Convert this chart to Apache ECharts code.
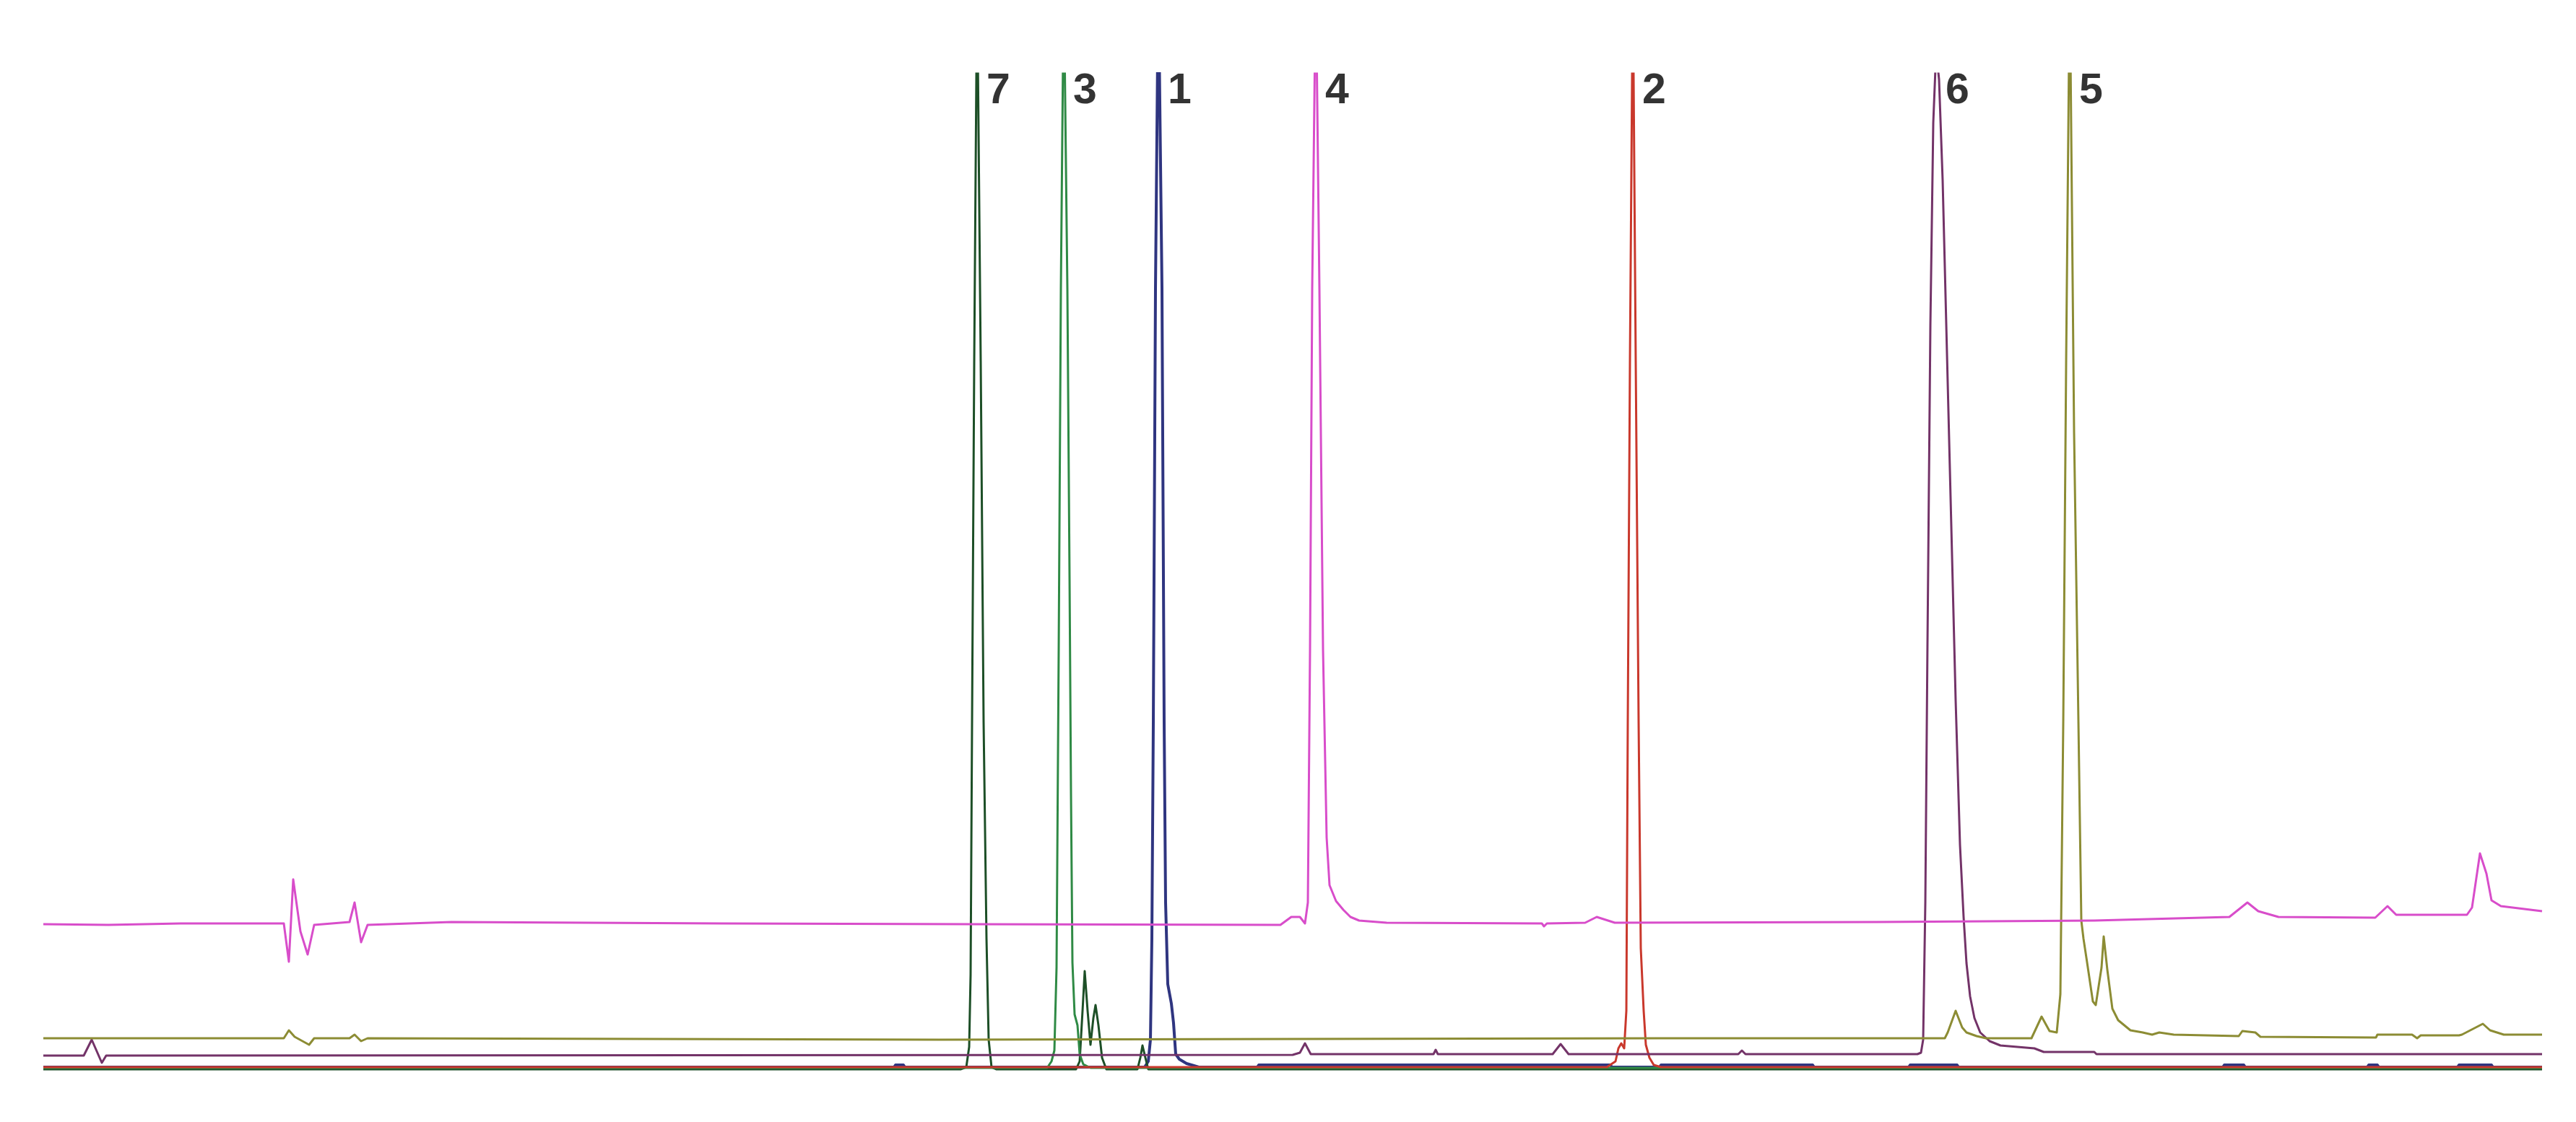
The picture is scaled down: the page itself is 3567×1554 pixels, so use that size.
<!DOCTYPE html>
<html>
<head>
<meta charset="utf-8">
<script src="https://cdn.jsdelivr.net/npm/echarts@6/dist/echarts.min.js"></script>
<style>
html,body{margin:0;padding:0;background:#ffffff;}
#chart{width:3567px;height:1554px;}
</style>
</head>
<body>
<div id="chart"></div>
<script>
// Retention time (min) vs detector signal (offset traces, mAU)
const peakLabels = ['7', '3', '1', '4', '2', '6', '5'];
const peakTimes = [12.93, 14.13, 15.44, 17.62, 22.01, 26.21, 28.06];
const labelLevel = 681.5;

const trace7 = [[0,4.5],[12.70,4.5],[12.78,6],[12.82,20],[12.84,70],[12.86,245],[12.89,495],[12.93,760],[12.98,495],[13.02,245],[13.06,95],[13.09,25],[13.13,6],[13.20,4.5],
  [14.30,4.5],[14.35,10],[14.39,45],[14.42,72.5],[14.46,45],[14.50,21.5],[14.54,40],[14.57,49],[14.61,35],[14.66,12.5],[14.72,4.5],
  [15.15,4.5],[15.19,12.5],[15.22,21],[15.26,12.5],[15.30,4.5],[34.60,4.5]];

const trace3 = [[0,5.5],[13.90,5.5],[13.96,10],[14.00,17.5],[14.03,75],[14.06,295],[14.09,545],[14.13,760],[14.18,545],[14.21,345],[14.23,195],[14.25,78.5],[14.28,42.5],[14.32,35],[14.35,15],[14.40,8],[14.50,5.5],[34.60,5.5]];

const trace1 = [[0,6],[11.78,6],[11.80,7.5],[11.91,7.5],[11.93,6],[15.25,6],[15.30,10],[15.33,25],[15.35,95],[15.37,245],[15.40,545],[15.44,760],[15.49,545],[15.52,245],[15.54,120],[15.57,63.5],[15.62,50],[15.65,36.5],[15.68,15],[15.73,11.5],[15.83,8.5],[16.00,6],
  [16.81,6],[16.83,7.5],[21.70,7.5],[21.72,6],[22.38,6],[22.40,7.5],[24.50,7.5],[24.52,6],[25.83,6],[25.85,7.5],[26.50,7.5],[26.52,6],
  [30.18,6],[30.20,7.5],[30.47,7.5],[30.49,6],[32.18,6],[32.20,7.5],[32.32,7.5],[32.34,6],[33.43,6],[33.45,7.5],[33.90,7.5],[33.92,6],[34.60,6]];

const trace2 = [[0,6],[21.65,6],[21.77,10],[21.81,19],[21.85,22.5],[21.89,19],[21.92,45],[21.94,245],[21.97,495],[22.01,760],[22.05,495],[22.09,245],[22.12,88.5],[22.16,45],[22.19,21.5],[22.24,12.5],[22.30,7.5],[22.40,6],[34.60,6]];

const trace6 = [[0,14],[0.56,14],[0.67,25],[0.81,9],[0.87,14],[17.30,14.5],[17.40,16],[17.47,22.5],[17.55,15],[19.25,15],[19.28,18],[19.31,15],[20.90,15],[21.01,22],[21.12,15],[23.47,15],[23.52,17.5],[23.57,15],
  [25.95,15],[26.00,16],[26.03,25],[26.06,120],[26.09,300],[26.13,520],[26.17,660],[26.21,710],[26.25,690],[26.30,620],[26.36,500],[26.42,380],[26.48,260],[26.54,160],[26.59,110],[26.63,78],[26.68,55],[26.74,40],[26.82,30],[26.95,24],[27.10,21],[27.57,19],[27.70,16.5],[28.40,16.5],[28.43,15],[34.60,15]];

const trace5 = [[0,26],[3.33,26],[3.40,31.5],[3.48,27],[3.68,21.5],[3.75,26],[4.24,26],[4.31,28.5],[4.40,24],[4.49,26],[12.40,25],[22.40,26],
  [26.33,26],[26.37,30],[26.48,45],[26.57,33.5],[26.63,30],[26.77,27.5],[26.90,26],[27.53,26],[27.67,41],[27.78,31],[27.88,30],[27.93,56.5],[27.97,245],[28.01,495],[28.06,760],[28.12,445],[28.18,245],[28.22,107.5],[28.25,95],[28.30,78.5],[28.38,51.5],[28.42,49],[28.50,75],[28.53,96.5],[28.58,73.5],[28.65,46.5],[28.73,38.5],[28.90,31.5],[29.07,30],[29.20,28.5],[29.30,30],[29.50,28.5],
  [30.40,27.5],[30.45,31],[30.63,30],[30.70,27],[32.30,26.5],[32.32,28.5],[32.80,28.5],[32.87,26],[32.92,28],[33.45,28],[33.49,28.5],[33.78,36],[33.88,31.5],[34.07,28.5],[34.60,28.5]];

const trace4 = [[0,105],[0.90,104.5],[1.90,105.5],[3.33,105.5],[3.40,79],[3.46,136],[3.56,100],[3.66,84],[3.75,104.5],[4.24,106.5],[4.31,120],[4.40,92.5],[4.49,104.5],[5.65,106.5],[9.40,105.5],[12.80,105],
  [17.13,104.5],[17.28,110],[17.40,110],[17.47,105.5],[17.51,120],[17.54,295],[17.57,545],[17.62,760],[17.67,545],[17.72,295],[17.77,165],[17.81,132],[17.90,121],[18.00,115],[18.10,110],[18.22,107.5],[18.60,106],
  [20.75,105.5],[20.78,103.5],[20.82,105.5],[21.35,106],[21.51,110],[21.76,106],[25.40,106.5],[28.40,107.5],[30.27,110],[30.52,120],[30.67,114],[30.95,110],[32.29,109.5],[32.46,117.5],[32.58,111.5],[33.56,111.5],[33.63,116.5],[33.74,154],[33.83,140],[33.90,121.5],[34.03,117.5],[34.60,114]];

const labelData = peakLabels.map((n, i) => ({ value: [peakTimes[i], labelLevel], name: n }));

function lineSeries(name, data, color, width) {
  return {
    name: name, type: 'line', data: data, showSymbol: false, symbol: 'none',
    clip: true, smooth: false, silent: true,
    lineStyle: { color: color, width: width, join: 'round' }
  };
}

const chart = echarts.init(document.getElementById('chart'), null, { renderer: 'canvas' });
chart.setOption({
  animation: false,
  backgroundColor: '#ffffff',
  grid: { left: 60, right: 47, top: 102, bottom: 64, containLabel: false },
  xAxis: { type: 'value', min: 0, max: 34.6, show: false },
  yAxis: { type: 'value', min: 0, max: 694, show: false },
  series: [
    lineSeries('1', trace1, '#2f3580', 4),
    lineSeries('7', trace7, '#1d4f27', 3),
    lineSeries('3', trace3, '#2f8a45', 3),
    lineSeries('2', trace2, '#c9382c', 3),
    lineSeries('6', trace6, '#733368', 3),
    lineSeries('5', trace5, '#8c8c34', 3),
    lineSeries('4', trace4, '#d84dca', 3),
    {
      name: 'labels', type: 'scatter', data: labelData, symbolSize: 0, silent: true, clip: false,
      label: {
        show: true, position: 'right', distance: 13,
        formatter: p => p.name,
        color: '#000000', fontSize: 59, fontWeight: 'bold',
        fontFamily: '"Liberation Sans Narrow", "Liberation Sans", Arial, sans-serif'
      }
    }
  ]
});
</script>
</body>
</html>
